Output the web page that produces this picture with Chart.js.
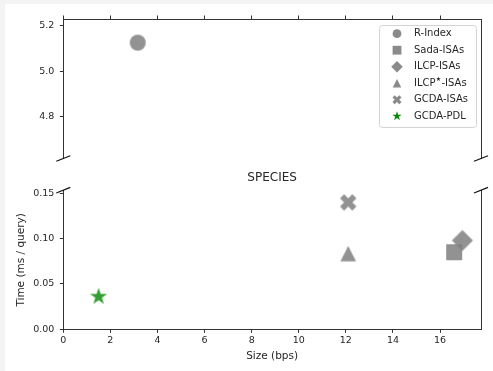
<!DOCTYPE html>
<html>
<head>
<meta charset="utf-8">
<script src="https://cdn.jsdelivr.net/npm/chart.js@4.4.1/dist/chart.umd.min.js"></script>
<style>
  html, body { margin: 0; padding: 0; width: 493px; height: 371px; overflow: hidden; background: #f4f4f4; }
  #card { position: absolute; left: 5px; top: 4px; width: 488px; height: 367px; background: #ffffff; }
  canvas { position: absolute; left: 0; top: 0; }
</style>
</head>
<body>
<div id="card"></div>
<canvas id="upper" width="493" height="371"></canvas>
<canvas id="lower" width="493" height="371"></canvas>
<script>
// Index size vs. query time on the SPECIES collection
const seriesNames = ['R-Index', 'Sada-ISAs', 'ILCP-ISAs', 'ILCP★-ISAs', 'GCDA-ISAs', 'GCDA-PDL'];
const sizeBps     = [3.16, 16.6, 16.95, 12.1, 12.1, 1.5];
const timeMs      = [5.125, 0.085, 0.098, 0.0835, 0.140, 0.036];

const xTicks     = [0, 2, 4, 6, 8, 10, 12, 14, 16];
const upperTicks = [4.8, 5.0, 5.2];
const lowerTicks = [0, 0.05, 0.10, 0.15];

const xRange     = [0, 17.74];
const upperRange = [4.616, 5.229];
const lowerRange = [0, 0.1531];

// ---- styling ----
const AXIS = '#333333';
const TEXT = '#262626';
const GRAY = 'rgba(128,128,128,0.86)';
const GRAY_KEY = 'rgba(128,128,128,0.92)';
const GREEN = 'rgba(34,150,34,0.92)';
const GREEN_KEY = '#0a860a';
const SHAPES = ['circle', 'square', 'diamond', 'triangle', 'xcross', 'star'];
const COLORS = [GRAY, GRAY, GRAY, GRAY, GRAY, GREEN];
const KEY_COLORS = [GRAY_KEY, GRAY_KEY, GRAY_KEY, GRAY_KEY, GRAY_KEY, GREEN_KEY];

Chart.defaults.font.family = "'DejaVu Sans', sans-serif";
Chart.defaults.color = TEXT;

function traceMarker(ctx, shape, k) {
  ctx.beginPath();
  switch (shape) {
    case 'circle':
      ctx.arc(0, 0, 8 * k, 0, Math.PI * 2);
      break;
    case 'square':
      ctx.rect(-8 * k, -8 * k, 16 * k, 16 * k);
      break;
    case 'diamond': {
      const r = 10.5 * k;
      ctx.moveTo(0, -r); ctx.lineTo(r, 0); ctx.lineTo(0, r); ctx.lineTo(-r, 0);
      ctx.closePath();
      break;
    }
    case 'triangle': {
      const h = 7.8 * k;
      ctx.moveTo(0, -h); ctx.lineTo(h, h); ctx.lineTo(-h, h);
      ctx.closePath();
      break;
    }
    case 'xcross': {
      const u = 2.9 * k, s = Math.SQRT1_2;
      const pts = [[-1,-3],[1,-3],[1,-1],[3,-1],[3,1],[1,1],[1,3],[-1,3],[-1,1],[-3,1],[-3,-1],[-1,-1]];
      pts.forEach(([px, py], i) => {
        const x = (px - py) * s * u, y = (px + py) * s * u;
        if (i === 0) ctx.moveTo(x, y); else ctx.lineTo(x, y);
      });
      ctx.closePath();
      break;
    }
    case 'star': {
      const R = 9 * k, r = R * 0.381966;
      for (let i = 0; i < 10; i++) {
        const a = -Math.PI / 2 + i * Math.PI / 5;
        const rad = i % 2 ? r : R;
        const x = Math.cos(a) * rad, y = Math.sin(a) * rad;
        if (i === 0) ctx.moveTo(x, y); else ctx.lineTo(x, y);
      }
      ctx.closePath();
      break;
    }
  }
}

function markerImage(shape, color) {
  const c = document.createElement('canvas');
  c.width = 26; c.height = 26;
  const ctx = c.getContext('2d');
  ctx.translate(13, 13);
  traceMarker(ctx, shape, 1);
  ctx.fillStyle = color;
  ctx.fill();
  return c;
}
const markerImages = SHAPES.map((s, i) => markerImage(s, COLORS[i]));

function datasetsFor(keep) {
  return seriesNames.map((name, i) => ({
    label: name,
    data: keep(timeMs[i]) ? [{ x: sizeBps[i], y: timeMs[i] }] : [],
    pointStyle: markerImages[i],
    order: -i
  }));
}

const fixedTicks = list => scale => { scale.ticks = list.map(v => ({ value: v })); };

function breakMarks(edge) {
  return {
    id: 'breakMarks',
    afterDraw(chart) {
      const { ctx, chartArea } = chart;
      const y = edge === 'bottom' ? chartArea.bottom : chartArea.top - 0.3;
      ctx.save();
      ctx.strokeStyle = '#111';
      ctx.lineWidth = 1.2;
      [chartArea.left, chartArea.right].forEach(x => {
        ctx.beginPath();
        ctx.moveTo(x - 7, y + 2.8);
        ctx.lineTo(x + 7, y - 2.8);
        ctx.stroke();
      });
      ctx.restore();
    }
  };
}

const keyBox = {
  id: 'keyBox',
  afterDraw(chart) {
    const { ctx, chartArea } = chart;
    const w = 97, h = 102;
    const left = chartArea.right - 5 - w, top = chartArea.top + 6;
    ctx.save();
    ctx.beginPath();
    ctx.roundRect(left + 0.5, top + 0.5, w, h, 3);
    ctx.fillStyle = 'rgba(255,255,255,0.85)';
    ctx.fill();
    ctx.strokeStyle = '#d3d3d3';
    ctx.lineWidth = 1;
    ctx.stroke();
    seriesNames.forEach((name, i) => {
      const cy = top + 8.7 + i * 16.5;
      ctx.save();
      ctx.translate(left + 18, cy);
      traceMarker(ctx, SHAPES[i], 0.55);
      ctx.fillStyle = KEY_COLORS[i];
      ctx.fill();
      ctx.restore();
      ctx.fillStyle = TEXT;
      ctx.textBaseline = 'middle';
      ctx.textAlign = 'left';
      let x = left + 35;
      const parts = name.split('★');
      parts.forEach((part, j) => {
        ctx.font = "10px 'DejaVu Sans', sans-serif";
        ctx.fillText(part, x, cy);
        x += ctx.measureText(part).width;
        if (j < parts.length - 1) {
          ctx.font = "6px 'DejaVu Sans', sans-serif";
          ctx.fillText('★', x + 0.3, cy - 4);
          x += ctx.measureText('★').width + 0.6;
        }
      });
    });
    ctx.restore();
  }
};

const tickGrid = { drawOnChartArea: false, tickLength: 3.5, color: AXIS, lineWidth: 1 };
const spine = { color: AXIS, width: 1 };
const rightSpine = {
  type: 'linear', position: 'right',
  afterFit: s => { s.width = 0; },
  ticks: { display: false },
  grid: { drawOnChartArea: false, drawTicks: false },
  border: spine
};
const common = {
  responsive: false,
  animation: false,
  events: [],
  plugins: { legend: { display: false }, tooltip: { enabled: false } }
};

// upper panel: the slow outlier
new Chart(document.getElementById('upper'), {
  type: 'scatter',
  data: { datasets: datasetsFor(v => v >= upperRange[0]) },
  options: {
    ...common,
    layout: { padding: { left: 15.4, right: 12, top: 15, bottom: 212.5 } },
    scales: {
      x: {
        type: 'linear', position: 'top', min: xRange[0], max: xRange[1],
        afterBuildTicks: fixedTicks(xTicks),
        afterFit: s => { s.height = 4; },
        ticks: { display: false },
        grid: tickGrid, border: spine
      },
      y: {
        type: 'linear', position: 'left', min: upperRange[0], max: upperRange[1],
        afterBuildTicks: fixedTicks(upperTicks),
        afterFit: s => { s.width = 47.9; },
        ticks: { padding: 5.5, font: { size: 9.5 }, callback: v => Number(v).toFixed(1) },
        grid: tickGrid, border: spine
      },
      yr: rightSpine
    }
  },
  plugins: [breakMarks('bottom'), keyBox]
});

// lower panel: the compact indexes
new Chart(document.getElementById('lower'), {
  type: 'scatter',
  data: { datasets: datasetsFor(v => v <= lowerRange[1]) },
  options: {
    ...common,
    layout: { padding: { left: 15.4, right: 12, top: 170.5, bottom: 8.7 } },
    plugins: {
      ...common.plugins,
      title: {
        display: true, text: 'SPECIES', fullSize: false, color: TEXT,
        font: { size: 12, weight: 'normal' },
        padding: { top: 0, bottom: 5.6 }
      }
    },
    scales: {
      x: {
        type: 'linear', position: 'bottom', min: xRange[0], max: xRange[1],
        afterBuildTicks: fixedTicks(xTicks),
        afterFit: s => { s.height = 33; },
        ticks: { padding: 2.5, font: { size: 9.5 }, callback: v => String(v) },
        grid: tickGrid, border: spine,
        title: { display: true, text: 'Size (bps)', color: TEXT, font: { size: 10.5 }, padding: 0 }
      },
      y: {
        type: 'linear', position: 'left', min: lowerRange[0], max: lowerRange[1],
        afterBuildTicks: fixedTicks(lowerTicks),
        afterFit: s => { s.width = 47.9; },
        ticks: { padding: 5.5, font: { size: 9.5 }, callback: v => Number(v).toFixed(2) },
        grid: tickGrid, border: spine,
        title: { display: true, text: 'Time (ms / query)', color: TEXT, font: { size: 10.5 }, padding: 0 }
      },
      yr: rightSpine
    }
  },
  plugins: [breakMarks('top')]
});
</script>
</body>
</html>
